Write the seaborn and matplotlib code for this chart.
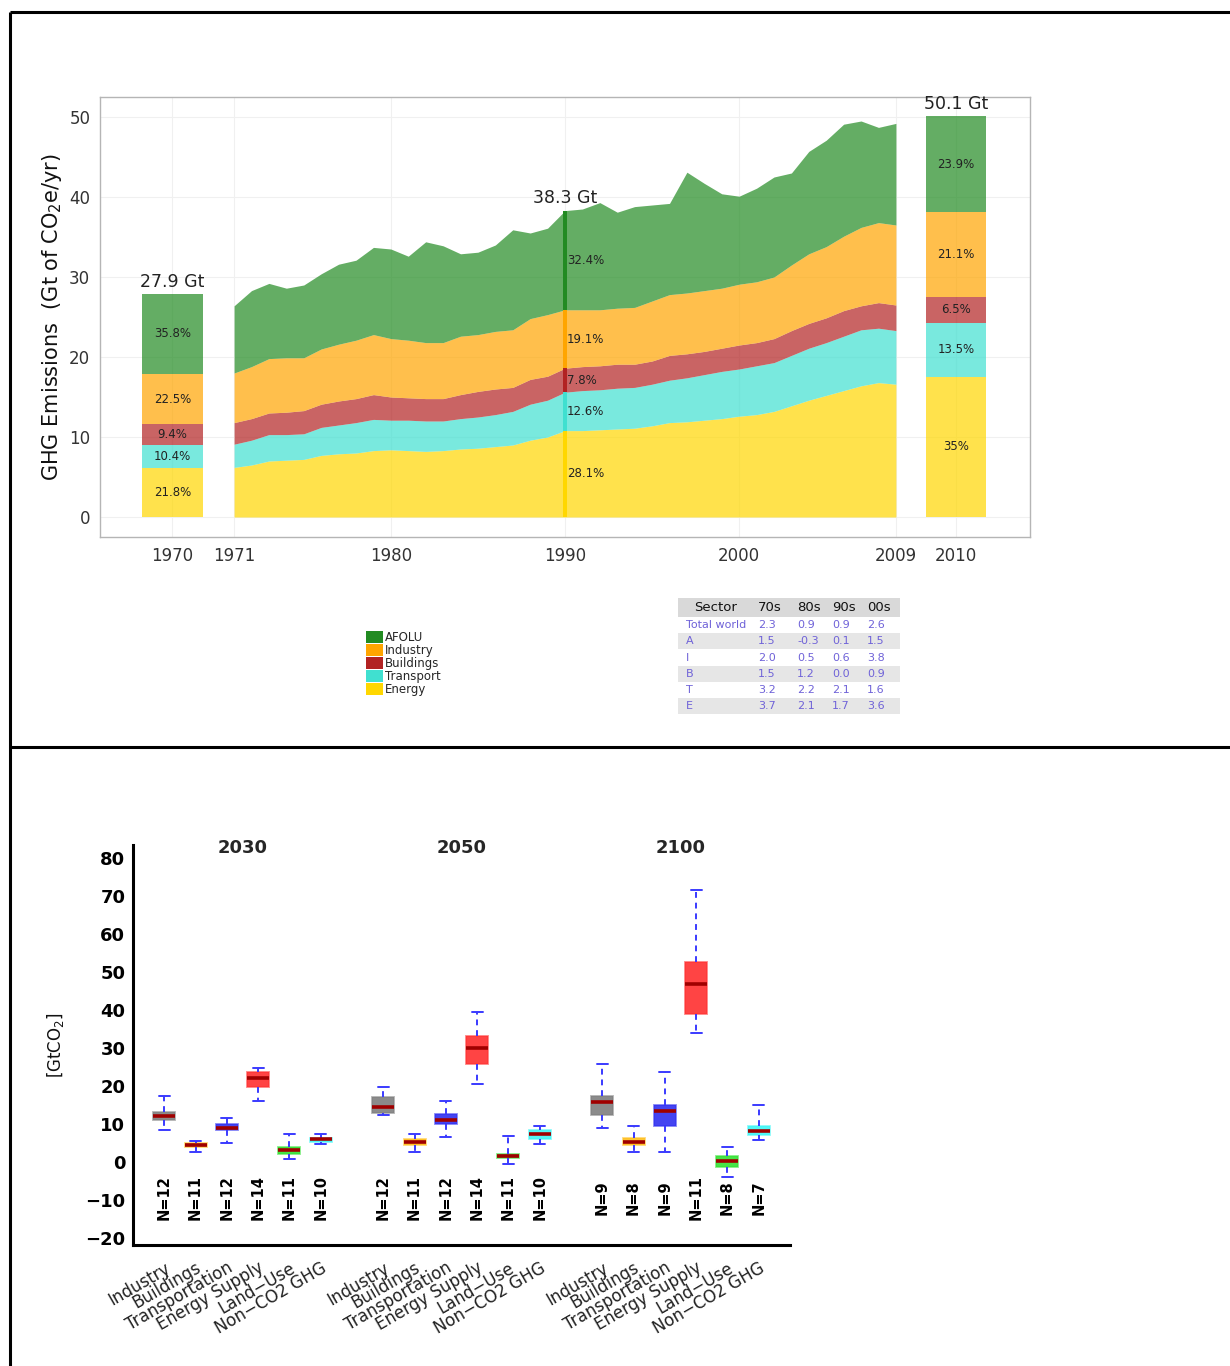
import numpy as np
import pandas as pd
import matplotlib
matplotlib.use("Agg")
import matplotlib.pyplot as plt
from matplotlib.patches import Patch, Rectangle
from matplotlib.lines import Line2D
import seaborn as sns

sns.set_theme(style="white")
plt.rcParams["font.family"] = ["DejaVu Sans"]
plt.rcParams["axes.unicode_minus"] = True

# ---------------- historical emissions by sector (Gt CO2e / yr) ----------------
years = np.arange(1971, 2010)
energy = [6.2, 6.5, 7.0, 7.1, 7.2, 7.7, 7.9, 8.0, 8.3, 8.4, 8.3, 8.2, 8.3, 8.5, 8.6,
          8.8, 9.0, 9.6, 10.0, 10.8, 10.8, 10.9, 11.0, 11.1, 11.4, 11.8, 11.9, 12.1,
          12.3, 12.6, 12.8, 13.2, 13.9, 14.6, 15.2, 15.8, 16.4, 16.8, 16.6]
transport = [2.9, 3.1, 3.3, 3.2, 3.2, 3.5, 3.6, 3.8, 3.9, 3.7, 3.8, 3.8, 3.7, 3.8, 3.9,
             4.0, 4.2, 4.5, 4.6, 4.8, 5.0, 5.0, 5.1, 5.1, 5.2, 5.3, 5.5, 5.7, 5.9, 5.9,
             6.1, 6.1, 6.3, 6.5, 6.6, 6.8, 7.0, 6.8, 6.7]
buildings = [2.7, 2.7, 2.7, 2.8, 2.9, 2.9, 3.0, 3.0, 3.1, 2.9, 2.8, 2.8, 2.8, 3.0, 3.2,
             3.2, 3.0, 3.1, 3.0, 3.0, 3.0, 3.0, 3.0, 2.9, 2.9, 3.1, 3.0, 2.9, 2.9, 3.0,
             2.9, 3.0, 3.1, 3.1, 3.1, 3.2, 3.0, 3.2, 3.2]
industry = [6.2, 6.5, 6.8, 6.8, 6.6, 6.9, 7.1, 7.3, 7.5, 7.3, 7.2, 7.0, 7.0, 7.3, 7.1,
            7.2, 7.2, 7.6, 7.7, 7.3, 7.1, 7.0, 7.0, 7.1, 7.5, 7.6, 7.6, 7.6, 7.5, 7.6,
            7.6, 7.7, 8.2, 8.7, 8.9, 9.3, 9.8, 10.0, 10.0]
afolu = [8.4, 9.5, 9.4, 8.7, 9.1, 9.4, 10.0, 10.0, 10.9, 11.2, 10.5, 12.6, 12.1, 10.3,
         10.3, 10.8, 12.5, 10.7, 10.8, 12.4, 12.6, 13.4, 12.0, 12.6, 12.0, 11.4, 15.1,
         13.4, 11.8, 11.0, 11.7, 12.5, 11.5, 12.8, 13.3, 14.0, 13.3, 11.9, 12.7]

# stacking order, bottom to top
stack_names = ["Energy", "Transport", "Buildings", "Industry", "AFOLU"]
stack_colors = ["#FFD700", "#40E0D0", "#B22222", "#FFA500", "#228B22"]

# single-year bars: totals and shares (bottom to top)
bar_years = ["1970", "2010"]
bar_totals = [27.9, 50.1]
bar_shares_1970 = [21.8, 10.4, 9.4, 22.5, 35.8]
bar_shares_2010 = [35.0, 13.5, 6.5, 21.1, 23.9]
total_1990 = 38.3
shares_1990 = [28.1, 12.6, 7.8, 19.1, 32.4]

# decadal growth table (% / yr)
table_header = ["Sector", "70s", "80s", "90s", "00s"]
table_sectors = ["Total world", "A", "I", "B", "T", "E"]
growth_70s = [2.3, 1.5, 2.0, 1.5, 3.2, 3.7]
growth_80s = [0.9, -0.3, 0.5, 1.2, 2.2, 2.1]
growth_90s = [0.9, 0.1, 0.6, 0.0, 2.1, 1.7]
growth_00s = [2.6, 1.5, 3.8, 0.9, 1.6, 3.6]

# ---------------- scenario box statistics (GtCO2) ----------------
box_sectors = ["Industry", "Buildings", "Transportation", "Energy Supply",
               "Land\u2212Use", "Non\u2212CO2 GHG"]
box_years = ["2030", "2050", "2100"]
# (lower whisker, Q1, median, Q3, upper whisker)
stats_2030 = [(8.5, 11.1, 12.2, 13.1, 17.3), (2.6, 3.9, 4.6, 5.0, 5.6),
              (5.0, 8.5, 9.1, 10.0, 11.6), (16.0, 19.7, 22.1, 23.7, 24.7),
              (0.9, 2.2, 3.1, 3.9, 7.5), (4.7, 5.4, 6.05, 6.3, 7.5)]
stats_2050 = [(12.3, 12.9, 14.6, 17.1, 19.9), (2.8, 4.6, 5.3, 6.05, 7.4),
              (6.6, 10.0, 11.1, 12.6, 16.0), (20.6, 25.8, 30.0, 33.3, 39.5),
              (-0.4, 1.05, 1.5, 2.1, 6.9), (4.8, 6.1, 7.5, 8.5, 9.6)]
stats_2100 = [(9.1, 12.3, 15.8, 17.5, 25.8), (2.6, 4.6, 5.4, 6.3, 9.4),
              (2.8, 9.6, 13.6, 15.1, 23.7), (33.9, 38.9, 46.9, 52.6, 71.7),
              (-3.9, -1.3, 0.35, 1.7, 3.9), (5.9, 7.2, 8.2, 9.6, 15.1)]
n_2030 = [12, 11, 12, 14, 11, 10]
n_2050 = [12, 11, 12, 14, 11, 10]
n_2100 = [9, 8, 9, 11, 8, 7]
box_colors = ["#7F7F7F", "#FFBF1F", "#3030F0", "#FF3030", "#33E033", "#40F5F5"]

W, H = 1230, 1366
fig = plt.figure(figsize=(W / 100, H / 100), dpi=100)

# ---------------- panel frame ----------------
lk = dict(color="black", lw=2.2, transform=fig.transFigure, solid_capstyle="butt")
fig.add_artist(Line2D([10 / W, 1], [1 - 12 / H, 1 - 12 / H], **lk))
fig.add_artist(Line2D([10 / W, 10 / W], [0, 1 - 12 / H], **lk))
fig.add_artist(Line2D([10 / W, 1], [1 - 747 / H, 1 - 747 / H], **lk))

# ---------------- top: stacked area ----------------
ax = fig.add_axes([100 / W, 1 - 537 / H, 930 / W, 440 / H])
ax.stackplot(years, energy, transport, buildings, industry, afolu,
             colors=stack_colors, alpha=0.7, linewidth=0)

bar_pos = [1967.45, 2012.45]
pct_kw = dict(fontsize=8.5, color="#222222", va="center")
for pos, total, shares in zip(bar_pos, bar_totals, [bar_shares_1970, bar_shares_2010]):
    vals = [total * s / 100 for s in shares]
    bottoms = np.concatenate([[0], np.cumsum(vals)[:-1]])
    ax.bar([pos] * 5, vals, bottom=bottoms, width=3.5, color=stack_colors,
           alpha=0.7, linewidth=0)
    for v, b, s in zip(vals, bottoms, shares):
        ax.text(pos, b + v / 2, f"{s:g}%", ha="center", **pct_kw)
    ax.text(pos, total + 0.4, f"{total} Gt", ha="center", va="bottom",
            fontsize=12.5, color="#222222")

vals90 = [total_1990 * s / 100 for s in shares_1990]
bot90 = np.concatenate([[0], np.cumsum(vals90)[:-1]])
ax.bar([1990] * 5, vals90, bottom=bot90, width=0.2, color=stack_colors, linewidth=0)
for v, b, s in zip(vals90, bot90, shares_1990):
    ax.text(1990.1, b + v / 2, f"{s:g}%", ha="left", **pct_kw)
ax.text(1990, total_1990 + 0.4, f"{total_1990} Gt", ha="center", va="bottom",
        fontsize=12.5, color="#222222")

ax.set_xlim(1963.3, 2016.7)
ax.set_ylim(-2.5, 52.5)
ax.set_xticks([1967.45, 1971, 1980, 1990, 2000, 2009, 2012.45])
ax.set_xticklabels(["1970", "1971", "1980", "1990", "2000", "2009", "2010"])
ax.set_yticks([0, 10, 20, 30, 40, 50])
ax.grid(True, color="#F0F0F0", lw=0.8)
ax.set_axisbelow(True)
for s in ax.spines.values():
    s.set_color("#B5B5B5")
    s.set_linewidth(1.0)
ax.tick_params(axis="both", length=4, width=1.3, color="#333333", labelsize=12,
               labelcolor="#333333", direction="out", pad=3)
fig.text(52 / W, 1 - 317 / H, r"GHG Emissions  (Gt of CO$_2$e$/$yr)", rotation=90,
         ha="center", va="center", fontsize=15, color="#111111")

# legend
handles = [Patch(facecolor=c, edgecolor="none") for c in stack_colors[::-1]]
fig.legend(handles, stack_names[::-1], loc="upper left",
           bbox_to_anchor=(366 / W, 1 - 631 / H), frameon=False, fontsize=8.5,
           handlelength=1.45, handleheight=1.15, handletextpad=0.15,
           labelspacing=0.0, borderpad=0, borderaxespad=0)

# growth table
tax = fig.add_axes([678 / W, 1 - 714 / H, 222 / W, 116 / H])
tax.set_xlim(678, 900)
tax.set_ylim(714, 598)
tax.axis("off")
row_h = 16.2
tax.add_patch(Rectangle((678, 598), 222, 19, color="#D9D9D9", lw=0))
for i in range(len(table_sectors)):
    y0 = 617 + i * row_h
    if i % 2 == 1:
        tax.add_patch(Rectangle((678, y0), 222, row_h, color="#E6E6E6", lw=0))
col_x = [716, 758, 797, 832, 867]
tax.text(col_x[0], 607.5, table_header[0], ha="center", va="center", fontsize=9.5,
         color="#111111")
for x, h in zip(col_x[1:], table_header[1:]):
    tax.text(x, 607.5, h, ha="left", va="center", fontsize=9.5, color="#111111")
body_c = "#6F62D8"
for i, name in enumerate(table_sectors):
    yc = 617 + i * row_h + row_h / 2
    tax.text(686, yc, name, ha="left", va="center", fontsize=8, color=body_c)
    for x, col in zip(col_x[1:], [growth_70s, growth_80s, growth_90s, growth_00s]):
        tax.text(x, yc, f"{col[i]:.1f}", ha="left", va="center", fontsize=8,
                 color=body_c)

# ---------------- bottom: scenario boxplots ----------------
records = []
group_start = [1, 8, 15]
for yr, start, stats in zip(box_years, group_start, [stats_2030, stats_2050, stats_2100]):
    for k, (sec, five) in enumerate(zip(box_sectors, stats)):
        for v in five:
            records.append({"year": yr, "sector": sec, "pos": start + k, "value": v})
box_df = pd.DataFrame(records)

ax2 = fig.add_axes([133 / W, 1 - 1245 / H, 657 / W, 400 / H])
sns.boxplot(data=box_df, x="pos", y="value", hue="sector", hue_order=box_sectors,
            palette=dict(zip(box_sectors, box_colors)), native_scale=True,
            dodge=False, width=0.7, whis=np.inf, saturation=1, legend=False,
            linewidth=1.3, ax=ax2,
            whiskerprops=dict(color="#3A3AFF", linestyle=(0, (3, 2.5)), linewidth=1.4),
            capprops=dict(color="#3A3AFF", linewidth=1.4),
            medianprops=dict(color="#A00000", linewidth=2.6))
for p in ax2.patches:
    fc = p.get_facecolor()
    p.set_facecolor((fc[0], fc[1], fc[2], 0.9))
    p.set_edgecolor((fc[0], fc[1], fc[2], 0.6))

ax2.set_xlim(0, 21)
ax2.set_ylim(-21.8, 83.5)
positions = [s + k for s in group_start for k in range(6)]
ax2.set_xticks(positions)
ax2.set_xticklabels(box_sectors * 3, rotation=30, ha="right", va="top",
                    rotation_mode="anchor", fontsize=12, color="#222222")
ax2.set_yticks(np.arange(-20, 81, 10))
for lab in ax2.get_yticklabels():
    lab.set_fontweight("bold")
ax2.tick_params(axis="y", direction="inout", length=7, width=1.6, labelsize=13,
                colors="black", pad=2)
ax2.tick_params(axis="x", direction="in", length=4, width=1.6, pad=10)
ax2.set_xlabel("")
ax2.set_ylabel("")
for side in ["top", "right"]:
    ax2.spines[side].set_visible(False)
for side in ["left", "bottom"]:
    ax2.spines[side].set_color("black")
    ax2.spines[side].set_linewidth(2.2)

for yr, start, ns in zip(box_years, group_start, [n_2030, n_2050, n_2100]):
    ax2.text(start + 2.5, 82.7, yr, ha="center", va="center", fontsize=13,
             fontweight="bold", clip_on=False)
    for k, n in enumerate(ns):
        ax2.text(start + k, -9.4, f"N={n}", rotation=90, ha="center", va="center",
                 fontsize=10.5, fontweight="bold", color="black")

fig.text(55 / W, 1 - 1045 / H, r"[GtCO$_2$]", rotation=90, ha="center",
         va="center", fontsize=12, color="#111111")

fig.savefig("out.png", dpi=100)
